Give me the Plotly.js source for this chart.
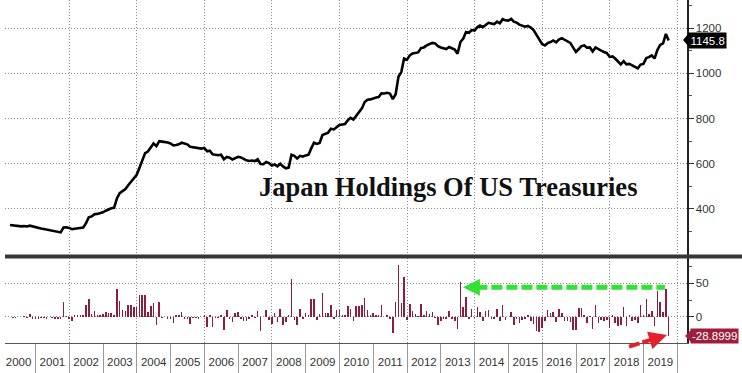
<!DOCTYPE html>
<html>
<head>
<meta charset="utf-8">
<script src="https://cdn.plot.ly/plotly-3.0.1.min.js"></script>
<style>
html,body{margin:0;padding:0;background:#fff;}
#chart{width:742px;height:373px;}
</style>
</head>
<body>
<div id="chart"></div>
<script>
// Japan holdings of US Treasuries, $bn, monthly (month-end), Mar 2000 - Sep 2019
const firstYear = 2000, firstMonth = 3;
const holdings = [
 // 2000 (Mar-Dec)
 329,327,325,324,323,324,322,326,322,318,
 // 2001
 315,313,311,308,307,305,302,299,296,318,319,316,
 // 2002
 310,312,314,316,318,336,363,367,376,378,381,385,
 // 2003
 392,398,403,405,446,470,480,488,505,522,536,551,
 // 2004
 583,615,647,654,670,690,678,700,698,697,694,690,
 // 2005
 681,683,686,693,690,686,675,673,671,668,667,670,
 // 2006
 655,658,642,640,638,640,620,630,627,619,624,631,
 // 2007
 628,621,615,612,614,612,620,599,598,608,603,592,
 // 2008
 597,589,600,588,580,583,640,635,623,635,632,637,
 // 2009
 640,667,693,688,692,727,733,738,755,752,762,772,
 // 2010
 774,776,792,803,796,812,828,845,873,883,885,890,
 // 2011
 893,895,912,911,914,911,886,908,985,1006,1066,1061,
 // 2012
 1080,1088,1092,1093,1112,1115,1124,1128,1135,1133,1121,1115,
 // 2013
 1112,1108,1117,1113,1106,1087,1139,1154,1183,1180,1192,1190,
 // 2014
 1205,1212,1205,1214,1224,1221,1218,1229,1222,1240,1235,1234,
 // 2015
 1241,1229,1225,1216,1211,1207,1210,1203,1192,1170,1147,1130,
 // 2016
 1124,1134,1139,1146,1138,1150,1156,1149,1143,1135,1115,1095,
 // 2017
 1108,1121,1124,1114,1115,1097,1115,1106,1101,1095,1090,1073,
 // 2018
 1075,1066,1052,1040,1054,1040,1042,1036,1031,1022,1039,1042,
 // 2019 (Jan-Sep)
 1068,1072,1080,1066,1104,1126,1133,1174.7,1145.8
];
// Monthly change, $bn
const changes = [
 // 2000
 -1,-2,-2,-1,-1,1,-2,4,-4,-4,
 // 2001
 -3,-2,-2,-3,-1,-2,-3,-3,-3,22,1,-3,
 // 2002
 -6,2,2,2,2,18,27,4,9,2,3,4,
 // 2003
 7,6,5,2,41,24,10,8,17,17,14,15,
 // 2004
 32,32,32,7,16,20,-12,22,-2,-1,-3,-4,
 // 2005
 -9,2,3,7,-3,-4,-11,-2,-2,-3,-1,3,
 // 2006
 -15,3,-16,-2,-2,2,-20,10,-3,-8,5,7,
 // 2007
 -3,-7,-6,-3,2,-2,8,-21,-1,10,-5,-11,
 // 2008
 5,-8,11,-12,-8,3,57,-5,-12,12,-3,5,
 // 2009
 3,27,26,-5,4,35,6,5,17,-3,10,10,
 // 2010
 2,2,16,11,-7,16,16,17,28,10,2,5,
 // 2011
 3,2,17,-1,3,-3,-25,22,77,21,60,-5,
 // 2012
 19,8,4,1,19,3,9,4,7,-2,-12,-6,
 // 2013
 -3,-4,9,-4,-7,-19,52,15,29,-3,12,-2,
 // 2014
 15,7,-7,9,10,-3,-3,11,-7,18,-5,-1,
 // 2015
 7,-12,-4,-9,-5,-4,3,-7,-11,-22,-23,-17,
 // 2016
 -6,10,5,7,-8,12,6,-7,-6,-8,-20,-20,
 // 2017
 13,13,3,-10,1,-18,18,-9,-5,-6,-5,-17,
 // 2018
 2,-9,-14,-12,14,-14,2,-6,-5,-9,17,3,
 // 2019
 26,4,8,-14,38,22,7,41.7,-28.8999
];
const topTicks = [400, 600, 800, 1000, 1200];
const topMinor = [300, 500, 700, 900, 1100, 1300];
const bottomTicks = [0, 50];
const bottomMinor = [-25, 25, 75];
const titleText = 'Japan Holdings Of US Treasuries';
const lastLevelLabel = '1145.8';
const lastChangeLabel = '-28.8999';

// month-end dates
const months = holdings.map((_, i) => {
  const d = new Date(Date.UTC(firstYear, firstMonth - 1 + i + 1, 0));
  return d.toISOString().slice(0, 10);
});
const lastLevel = holdings[holdings.length - 1];
const lastChange = changes[changes.length - 1];

const xRange = ['2000-02-06', '2020-04-15'];
const tickFont = {family: '"Liberation Sans Narrow", "Arial Narrow", "Liberation Sans", sans-serif', size: 11.5, color: '#333'};
const gridDash = '1px,2px';

const traces = [
  {type: 'scatter', mode: 'lines', x: months, y: holdings, xaxis: 'x', yaxis: 'y',
   line: {color: '#000', width: 2.6}, hoverinfo: 'skip', showlegend: false},
  {type: 'bar', x: months, y: changes, xaxis: 'x2', yaxis: 'y2',
   width: 17 * 86400000, marker: {color: '#8b1e40', line: {width: 0}},
   hoverinfo: 'skip', showlegend: false},
  {type: 'scatter', mode: 'markers', x: [], y: [], xaxis: 'x3', yaxis: 'y2',
   hoverinfo: 'skip', showlegend: false}
];

const W = 742, H = 373, ml = 5, mr = 55, mt = 0, mb = 30;
const pw = W - ml - mr, ph = H - mt - mb;
const px2paperX = p => (p - ml) / pw;
const px2paperY = p => (H - mb - p) / ph;

const layout = {
  width: W, height: H,
  margin: {l: ml, r: mr, t: mt, b: mb, pad: 0},
  paper_bgcolor: '#fff', plot_bgcolor: '#fff',
  showlegend: false, bargap: 0,
  xaxis: {type: 'date', range: xRange, anchor: 'y', domain: [0, 1],
    tick0: '2000-01-01', dtick: 'M24', showgrid: true, gridcolor: '#8a8a8a', griddash: gridDash, gridwidth: 1,
    showticklabels: false, ticks: '', zeroline: false, showline: false},
  xaxis2: {type: 'date', range: xRange, anchor: 'y2', domain: [0, 1],
    tick0: '2000-01-01', dtick: 'M24', showgrid: true, gridcolor: '#8a8a8a', griddash: gridDash, gridwidth: 1,
    showticklabels: false, ticks: '', zeroline: false, showline: false},
  xaxis3: {type: 'date', range: xRange, anchor: 'y2', overlaying: 'x2', side: 'bottom',
    tick0: '2000-01-01', dtick: 'M12', tickformat: '%Y', ticklabelmode: 'period',
    ticks: 'outside', ticklen: 30, tickcolor: '#999', tickwidth: 1,
    ticklabelstandoff: -22, tickfont: tickFont,
    showgrid: false, zeroline: false, showline: true, linecolor: '#555', linewidth: 1},
  yaxis: {domain: [px2paperY(255), 1], range: [196, 1325], side: 'right', anchor: 'x',
    tickvals: topTicks, ticktext: topTicks.map(String), tickfont: tickFont,
    ticks: 'outside', ticklen: 5, tickcolor: '#333', tickwidth: 1,
    minor: {tickvals: topMinor, ticks: 'outside', ticklen: 3, tickcolor: '#555', showgrid: false},
    showgrid: true, gridcolor: '#8a8a8a', griddash: gridDash, zeroline: false,
    showline: true, linecolor: '#222', linewidth: 1.5},
  yaxis2: {domain: [0, px2paperY(258)], range: [-39.5, 88], side: 'right', anchor: 'x2',
    tickvals: bottomTicks, ticktext: bottomTicks.map(String), tickfont: tickFont,
    ticks: 'outside', ticklen: 5, tickcolor: '#333', tickwidth: 1,
    minor: {tickvals: bottomMinor, ticks: 'outside', ticklen: 3, tickcolor: '#555', showgrid: false},
    showgrid: true, gridcolor: '#8a8a8a', griddash: gridDash, zeroline: false,
    showline: true, linecolor: '#222', linewidth: 1.5},
  shapes: [
    // panel separator
    {type: 'line', xref: 'paper', yref: 'paper', x0: px2paperX(5), x1: px2paperX(742),
     y0: px2paperY(256.5), y1: px2paperY(256.5), line: {color: '#363636', width: 4}},
    // green dashed arrow shaft
    {type: 'line', xref: 'x2', yref: 'y2', x0: '2014-01-20', x1: '2019-08-20', y0: 44, y1: 44,
     line: {color: '#33e033', width: 5, dash: '11px,4px'}},
    // red dashed arrow shaft
    {type: 'line', xref: 'paper', yref: 'paper', x0: px2paperX(629), y0: px2paperY(346.7),
     x1: px2paperX(655), y1: px2paperY(338.5), line: {color: '#e3202b', width: 4, dash: '11px,3px'}},
    // pointer tips of value labels
    {type: 'path', xref: 'paper', yref: 'paper',
     path: `M ${px2paperX(683)},${px2paperY(40)} L ${px2paperX(689)},${px2paperY(33)} L ${px2paperX(689)},${px2paperY(47)} Z`,
     fillcolor: '#000', line: {width: 0}},
    {type: 'path', xref: 'paper', yref: 'paper',
     path: `M ${px2paperX(685)},${px2paperY(336)} L ${px2paperX(691)},${px2paperY(330)} L ${px2paperX(691)},${px2paperY(342)} Z`,
     fillcolor: '#9e1f3c', line: {width: 0}}
  ],
  annotations: [
    {text: '<b>' + titleText + '</b>', xref: 'paper', yref: 'paper',
     x: px2paperX(448), y: px2paperY(187), xanchor: 'center', yanchor: 'middle', showarrow: false,
     font: {family: '"Liberation Serif", "Times New Roman", serif', size: 26.5, color: '#111'}},
    {text: lastLevelLabel, xref: 'paper', yref: 'y', x: px2paperX(688), y: lastLevel,
     xanchor: 'left', yanchor: 'middle', showarrow: false, bgcolor: '#000', borderpad: 1.5,
     font: {family: tickFont.family, size: 11.5, color: '#fff'}},
    {text: lastChangeLabel, xref: 'paper', yref: 'y2', x: px2paperX(690), y: lastChange,
     xanchor: 'left', yanchor: 'middle', showarrow: false, bgcolor: '#9e1f3c', borderpad: 1,
     font: {family: tickFont.family, size: 11.5, color: '#fff'}},
    // green arrow head
    {text: '', xref: 'x2', yref: 'y2', x: '2013-08-28', y: 44, ax: 14, ay: 0,
     showarrow: true, arrowhead: 2, arrowsize: 0.75, arrowwidth: 4.5, arrowcolor: '#33e033'},
    // red arrow head
    {text: '', xref: 'paper', yref: 'paper', x: px2paperX(667), y: px2paperY(335), ax: -13, ay: 4,
     showarrow: true, arrowhead: 2, arrowsize: 0.9, arrowwidth: 4, arrowcolor: '#e3202b'}
  ]
};

Plotly.newPlot('chart', traces, layout, {staticPlot: true, displayModeBar: false});
</script>
</body>
</html>
